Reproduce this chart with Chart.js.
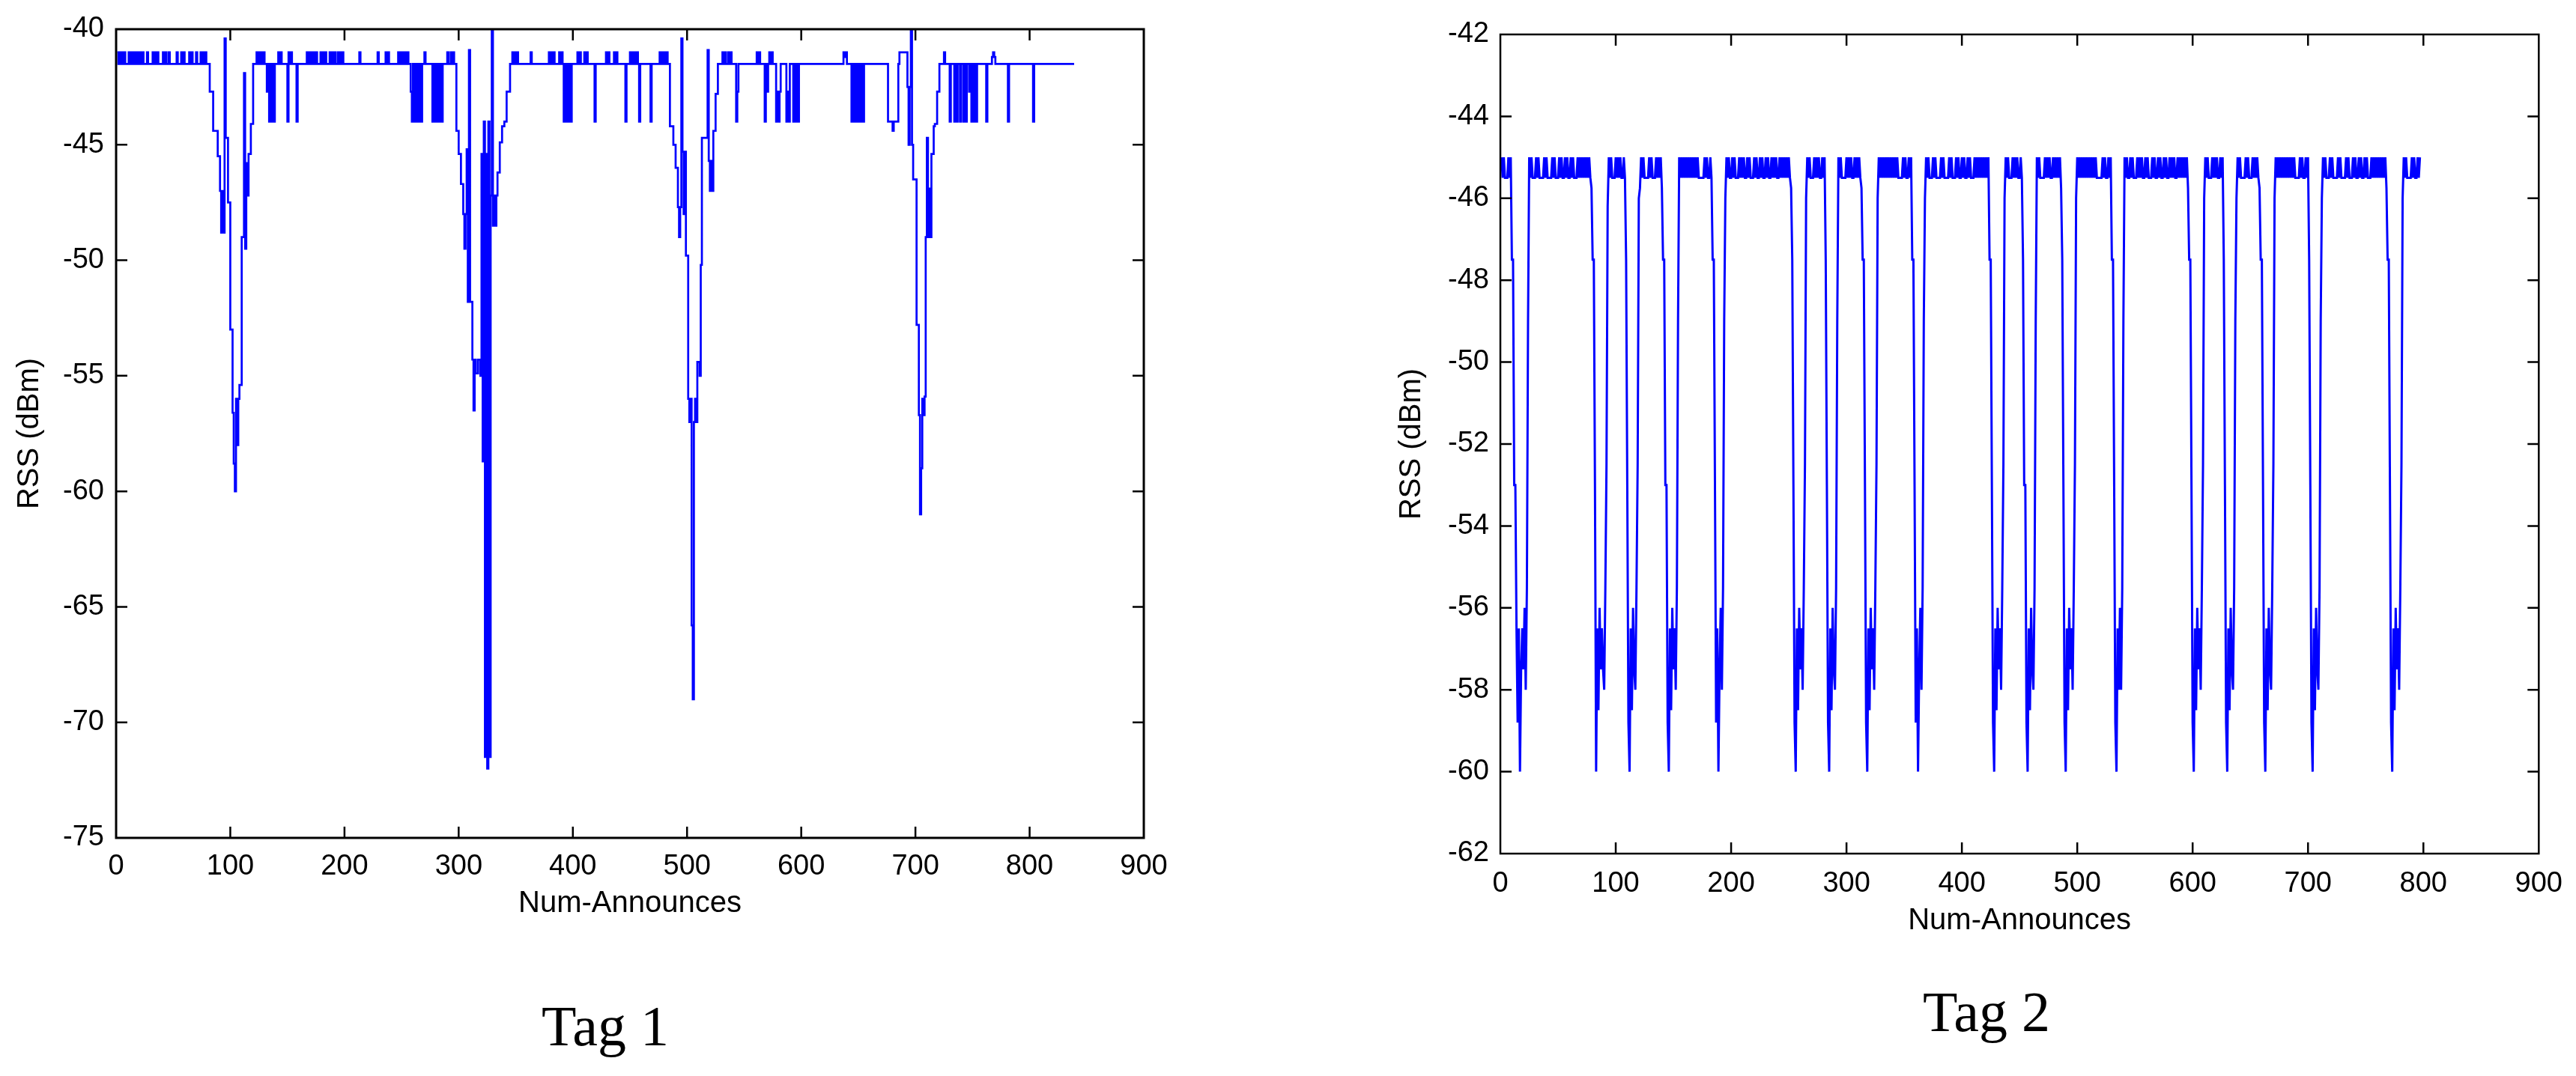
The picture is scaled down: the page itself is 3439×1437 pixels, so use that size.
<!DOCTYPE html>
<html><head><meta charset="utf-8">
<script src="https://cdn.jsdelivr.net/npm/chart.js@4.4.1/dist/chart.umd.min.js"></script>
<style>
html,body{margin:0;padding:0;background:#fff;}
body{width:3439px;height:1437px;position:relative;overflow:hidden;}
canvas{position:absolute;top:0;}
#c1{left:0}
#c2{left:1840px}
.tag{position:absolute;font-family:"Liberation Serif","Times New Roman",serif;font-size:76px;line-height:76px;color:#000;white-space:nowrap;transform:translateX(-50%);}
</style></head>
<body>
<canvas id="c1" width="1620" height="1300"></canvas>
<canvas id="c2" width="1599" height="1330"></canvas>
<div class="tag" style="left:808px;top:1332px">Tag 1</div>
<div class="tag" style="left:2652px;top:1313px">Tag 2</div>
<script>
// ---------- data ----------
const xTickValues = [0,100,200,300,400,500,600,700,800,900];
const tag1YTicks = [-75,-70,-65,-60,-55,-50,-45,-40];
const tag2YTicks = [-62,-60,-58,-56,-54,-52,-50,-48,-46,-44,-42];
const xTitle = 'Num-Announces';
const yTitle = 'RSS (dBm)';

// Tag 1: [announce number where the reading starts, RSS dBm] (held until next entry)
const tag1Readings = [
[1,-41],[2,-41.5],[3,-41],[4,-41.5],[5,-41],[6,-41.5],[7,-41],[8,-41.5],
[11,-41],[12,-41.5],[13,-41],[14,-41.5],[15,-41],[16,-41.5],[17,-41],[18,-41.5],[19,-41],[20,-41.5],[21,-41],[22,-41.5],[23,-41],[24,-41.5],
[27,-41],[28,-41.5],[32,-41],[33,-41.5],[34,-41],[35,-41.5],[36,-41],[37,-41.5],
[41,-41],[42,-41.5],[43,-41],[44,-41.5],[46,-41],[47,-41.5],[53,-41],[54,-41.5],
[57,-41],[58,-41.5],[59,-41],[60,-41.5],[64,-41],[65,-41.5],[66,-41],[67,-41.5],[70,-41],[71,-41.5],
[74,-41],[75,-41.5],[76,-41],[77,-41.5],[78,-41],[79,-41.5],
[82,-42.7],[85,-44.4],[89,-45.5],[91,-47],[92,-48.8],[93,-47],[94,-48.8],[95,-40.4],[96,-44.7],[98,-47.5],[100,-53],[102,-56.6],[103,-58.8],[104,-60],[105,-56],[106,-58],[107,-56],[108,-55.4],[110,-49],[112,-41.9],[113,-49.5],[114,-45.8],[115,-47.2],[116,-45.4],[118,-44.1],[120,-41.5],
[123,-41],[124,-41.5],[125,-41],[126,-41.5],[127,-41],[128,-41.5],[129,-41],[130,-41.5],[132,-42.7],[133,-41.5],[134,-44],[135,-41.5],[136,-44],[137,-41.5],[138,-44],[139,-41.5],[142,-41],[143,-41.5],[144,-41],[145,-41.5],[150,-44],[151,-41],[152,-41.5],[153,-41],[154,-41.5],[158,-44],[159,-41.5],
[167,-41],[168,-41.5],[169,-41],[170,-41.5],[171,-41],[172,-41.5],[173,-41],[174,-41.5],[175,-41],[176,-41.5],[179,-41],[180,-41.5],[181,-41],[182,-41.5],[183,-41],[184,-41.5],[187,-41],[188,-41.5],[189,-41],[190,-41.5],[191,-41],[192,-41.5],[194,-41],[195,-41.5],[196,-41],[197,-41.5],[198,-41],[199,-41.5],
[213,-41],[214,-41.5],[229,-41],[230,-41.5],[236,-41],[237,-41.5],[238,-41],[239,-41.5],
[247,-41],[248,-41.5],[249,-41],[250,-41.5],[251,-41],[252,-41.5],[253,-41],[254,-41.5],[255,-41],[256,-41.5],
[258,-42.7],[259,-44],[260,-41.5],[261,-44],[262,-41.5],[263,-44],[264,-41.5],[265,-44],[266,-41.5],[267,-44],[268,-41.5],[270,-41],[271,-41.5],
[277,-44],[278,-41.5],[279,-44],[280,-41.5],[281,-44],[282,-41.5],[283,-44],[284,-41.5],[285,-44],[286,-41.5],[290,-41],[291,-41.5],[293,-41],[294,-41.5],[295,-41],[296,-41.5],
[298,-44.4],[300,-45.4],[302,-46.7],[304,-48],[305,-49.5],[306,-48],[307,-45.2],[308,-51.8],[309,-40.9],[310,-51.8],[312,-54.3],[313,-56.5],[314,-54.3],[315,-54.9],[317,-54.3],[319,-55],[320,-45.4],[321,-58.7],[322,-44],[323,-71.5],[324,-45.4],[325,-72],[326,-44],[327,-71.5],[328,-47.2],[329,-40],[330,-48.5],[331,-47.2],[332,-48.5],[333,-47.2],[334,-46.2],[336,-44.9],[338,-44.2],[340,-44],[342,-42.7],[345,-41.5],
[347,-41],[348,-41.5],[349,-41],[350,-41.5],[351,-41],[352,-41.5],[363,-41],[364,-41.5],[379,-41],[380,-41.5],[381,-41],[382,-41.5],[383,-41],[384,-41.5],[388,-41],[389,-41.5],[390,-41],[391,-41.5],[392,-44],[393,-41.5],[394,-44],[395,-41.5],[396,-44],[397,-41.5],[398,-44],[399,-41.5],[404,-41],[405,-41.5],[406,-41],[407,-41.5],[410,-41],[411,-41.5],[412,-41],[413,-41.5],[419,-44],[420,-41.5],[429,-41],[430,-41.5],[431,-41],[432,-41.5],[436,-41],[437,-41.5],[438,-41],[439,-41.5],[446,-44],[447,-41.5],[450,-41],[451,-41.5],[452,-41],[453,-41.5],[454,-41],[455,-41.5],[456,-41],[457,-41.5],[458,-44],[459,-41.5],[468,-44],[469,-41.5],[476,-41],[477,-41.5],[478,-41],[479,-41.5],[480,-41],[481,-41.5],[482,-41],[483,-41.5],
[485,-44.2],[488,-45],[490,-46],[492,-47.7],[493,-49],[494,-47.7],[495,-40.4],[496,-45.3],[497,-48],[498,-45.3],[499,-49.8],[501,-56],[502,-57],[503,-56],[504,-65.8],[505,-69],[506,-57],[507,-56],[508,-57],[509,-54.4],[511,-55],[512,-50.2],[513,-44.7],[518,-40.9],[519,-45.7],[520,-47],[521,-45.7],[522,-47],[523,-44.4],[525,-42.8],[527,-41.5],
[531,-41],[532,-41.5],[533,-41],[534,-41.5],[536,-41],[537,-41.5],[538,-41],[539,-41.5],[543,-44],[544,-42.7],[545,-41.5],[561,-41],[562,-41.5],[563,-41],[564,-41.5],[568,-44],[569,-41.5],[570,-42.7],[571,-41.5],[572,-41],[573,-41.5],[574,-41],[575,-41.5],[578,-44],[579,-42.7],[580,-44],[581,-42.7],[582,-41.5],[587,-44],[588,-42.7],[589,-44],[590,-41.5],[593,-44],[594,-41.5],[595,-44],[596,-41.5],[597,-44],[598,-41.5],[637,-41],[638,-41.2],[639,-41],[640,-41.5],[644,-44],[645,-41.5],[646,-44],[647,-41.5],[648,-44],[649,-41.5],[650,-44],[651,-41.5],[652,-44],[653,-41.5],[654,-44],[655,-41.5],
[676,-44],[680,-44.4],[681,-44],[685,-41.5],[686,-41],[693,-42.5],[694,-45],[695,-42.5],[696,-40],[697,-45],[698,-46.5],[701,-52.8],[703,-56.7],[704,-61],[705,-59],[706,-56],[707,-56.7],[708,-55.9],[709,-49],[710,-44.7],[711,-49],[712,-46.9],[713,-49],[714,-45.4],[716,-44.2],[717,-44.1],[719,-42.7],[721,-41.5],
[725,-41],[726,-41.5],[730,-44],[731,-41.5],[734,-44],[735,-41.5],[736,-44],[737,-41.5],[739,-44],[740,-41.5],[742,-44],[743,-41.5],[744,-44],[745,-41.5],[747,-42.7],[748,-41.5],[749,-44],[750,-41.5],[751,-44],[752,-41.5],[753,-44],[754,-41.5],[762,-44],[763,-41.5],[767,-41.2],[768,-41],[769,-41.2],[770,-41.5],[781,-44],[782,-41.5],[803,-44],[804,-41.5],[839,-41.5]
];

// Tag 2: [first announce number of the run, consecutive RSS dBm readings]
const tag2Runs = [
[1,   [-45,-45.5,-45, -45.5,-45.5,-45.5, -45,-45.5,-45]],
[10,  [-47.5,-47.5,-53,-53,-56.5,-58.8,-56.5,-60,-57.5,-56.5,-57.5,-56,-58,-55.5,-49]],
[25,  [-45,-45.5,-45,-45.5, -45.5,-45.5, -45,-45.5,-45,-45.5, -45.5,-45.5,-45.5, -45,-45.5,-45,-45.5, -45.5,-45.5,-45.5, -45,-45.5,-45,-45.5, -45.5,-45.5, -45,-45.5,-45,-45.5, -45.5, -45,-45.5,-45, -45.5,-45.5, -45,-45.5,-45,-45.5, -45.5,-45.5, -45,-45.5,-45,-45.5,-45,-45.5,-45,-45.5,-45,-45.5,-45,-45.5]],
[79,  [-45.75,-47.5,-47.5,-53,-60,-56.5,-58.5,-56,-57.5,-56.5,-57.5,-58,-55.5,-52.5,-46.2]],
[94,  [-45,-45.5,-45, -45.5,-45.5,-45.5, -45,-45.5,-45,-45.5,-45, -45.5,-45.5, -45,-45.5]],
[109, [-47.5,-53,-58.8,-60,-56.5,-58.5,-56,-57.5,-58,-55.5,-52.5,-46,-45.75]],
[122, [-45,-45.5,-45,-45.5, -45.5,-45.5,-45.5, -45,-45.5,-45,-45.5, -45.5,-45.5, -45,-45.5,-45,-45.5,-45]],
[140, [-45.75,-47.5,-47.5,-53,-53,-58.8,-60,-56.5,-58.5,-56,-57.5,-56.5,-58,-55.5,-49]],
[155, [-45,-45.5,-45,-45.5,-45,-45.5,-45,-45.5,-45,-45.5,-45,-45.5,-45,-45.5,-45,-45.5,-45,-45.5, -45.5,-45.5,-45.5,-45.5, -45,-45.5,-45, -45.5,-45.5, -45,-45.5]],
[184, [-47.5,-47.5,-53,-58.8,-56.5,-60,-57.5,-56,-58,-55.5,-49,-46]],
[196, [-45,-45.5,-45, -45.5,-45.5, -45,-45.5,-45, -45.5,-45.5,-45.5, -45,-45.5,-45,-45.5,-45, -45.5,-45.5, -45,-45.5,-45,-45.5, -45.5,-45.5, -45,-45.5,-45, -45.5,-45.5, -45,-45.5,-45, -45.5,-45.5, -45,-45.5,-45,-45.5, -45.5, -45,-45.5,-45,-45.5,-45, -45.5,-45.5, -45,-45.5,-45,-45.5,-45,-45.5,-45,-45.5,-45,-45.5]],
[252, [-45.75,-47.5,-53,-58.8,-60,-56.5,-58.5,-56,-57.5,-56.5,-58,-55.5,-52.5,-46]],
[266, [-45,-45.5,-45, -45.5,-45.5,-45.5, -45,-45.5,-45,-45.5,-45, -45.5,-45.5, -45,-45.5,-45]],
[282, [-47.5,-53,-58.8,-60,-56.5,-58.5,-56,-57.5,-58,-55.5,-49]],
[293, [-45,-45.5,-45,-45.5, -45.5,-45.5,-45.5, -45,-45.5,-45,-45.5,-45, -45.5,-45.5, -45,-45.5,-45,-45.5,-45,-45.5]],
[313, [-45.75,-47.5,-47.5,-53,-58.8,-60,-56.5,-58.5,-56,-57.5,-56.5,-58,-55.5,-52.5]],
[327, [-46, -45,-45.5,-45,-45.5,-45,-45.5,-45,-45.5,-45,-45.5,-45,-45.5,-45,-45.5,-45,-45.5,-45, -45.5,-45.5,-45.5,-45.5, -45,-45.5,-45, -45.5,-45.5, -45,-45.5,-45]],
[357, [-47.5,-47.5,-53,-58.8,-56.5,-60,-57.5,-56,-58,-55.5,-49,-46]],
[369, [-45,-45.5,-45,-45.5, -45.5,-45.5, -45,-45.5,-45,-45.5, -45.5,-45.5,-45.5, -45,-45.5,-45,-45.5, -45.5,-45.5,-45.5, -45,-45.5,-45,-45.5, -45.5,-45.5, -45,-45.5,-45,-45.5, -45.5, -45,-45.5,-45, -45.5,-45.5, -45,-45.5,-45,-45.5, -45.5,-45.5, -45,-45.5,-45,-45.5,-45,-45.5,-45,-45.5,-45,-45.5,-45,-45.5,-45]],
[424, [-47.5,-47.5,-53,-58.8,-60,-56.5,-58.5,-56,-57.5,-56.5,-58,-55.5,-52.5,-46]],
[438, [-45,-45.5,-45, -45.5,-45.5,-45.5, -45,-45.5,-45,-45.5,-45, -45.5,-45.5, -45,-45.5]],
[453, [-47.5,-53,-53,-58.8,-60,-56.5,-58.5,-56,-57.5,-58,-55.5,-49]],
[465, [-45,-45.5,-45,-45.5, -45.5,-45.5,-45.5, -45,-45.5,-45,-45.5,-45, -45.5,-45.5, -45,-45.5,-45,-45.5,-45,-45.5,-45]],
[486, [-45.75,-47.5,-53,-58.8,-60,-56.5,-58.5,-56,-57.5,-56.5,-58,-55.5,-52.5,-46]],
[500, [-45,-45.5,-45,-45.5,-45,-45.5,-45,-45.5,-45,-45.5,-45,-45.5,-45,-45.5,-45,-45.5,-45,-45.5, -45.5,-45.5,-45.5,-45.5, -45,-45.5,-45, -45.5,-45.5, -45,-45.5,-45]],
[530, [-47.5,-47.5,-53,-58.8,-60,-56.5,-58,-56,-58,-55.5,-49]],
[541, [-45,-45.5,-45, -45.5,-45.5, -45,-45.5,-45, -45.5,-45.5,-45.5, -45,-45.5,-45,-45.5,-45, -45.5,-45.5, -45,-45.5,-45,-45.5, -45.5,-45.5, -45,-45.5,-45, -45.5,-45.5, -45,-45.5,-45, -45.5,-45.5, -45,-45.5,-45,-45.5, -45.5, -45,-45.5,-45,-45.5,-45, -45.5,-45.5, -45,-45.5,-45,-45.5,-45,-45.5,-45,-45.5,-45]],
[596, [-45.75,-47.5,-47.5,-53,-58.8,-60,-56.5,-58.5,-56,-57.5,-56.5,-58,-55.5,-52.5,-46]],
[611, [-45,-45.5,-45, -45.5,-45.5,-45.5, -45,-45.5,-45,-45.5,-45, -45.5,-45.5, -45,-45.5,-45]],
[627, [-47.5,-53,-58.8,-60,-56.5,-58.5,-56,-57.5,-58,-55.5,-49,-46]],
[639, [-45,-45.5,-45,-45.5, -45.5,-45.5,-45.5, -45,-45.5,-45,-45.5, -45.5,-45.5, -45,-45.5,-45,-45.5,-45,-45.5]],
[658, [-45.75,-47.5,-47.5,-53,-58.8,-60,-56.5,-58.5,-56,-57.5,-58,-55.5,-52.5]],
[671, [-46, -45,-45.5,-45,-45.5,-45,-45.5,-45,-45.5,-45,-45.5,-45,-45.5,-45,-45.5,-45,-45.5,-45, -45.5,-45.5,-45.5,-45.5, -45,-45.5,-45, -45.5,-45.5, -45,-45.5,-45]],
[701, [-47.5,-53,-58.8,-60,-56.5,-58.5,-56,-57.5,-58,-55.5,-49,-46]],
[713, [-45,-45.5,-45,-45.5, -45.5,-45.5, -45,-45.5,-45,-45.5, -45.5,-45.5,-45.5, -45,-45.5,-45,-45.5, -45.5,-45.5,-45.5, -45,-45.5,-45,-45.5, -45.5,-45.5, -45,-45.5,-45,-45.5, -45.5, -45,-45.5,-45, -45.5,-45.5, -45,-45.5,-45,-45.5, -45.5,-45.5, -45,-45.5,-45,-45.5,-45,-45.5,-45,-45.5,-45,-45.5,-45,-45.5,-45]],
[768, [-45.75,-47.5,-47.5,-53,-58.8,-60,-56.5,-58.5,-56,-57.5,-56.5,-58,-55.5,-52.5,-46]],
[783, [-45,-45.5,-45,-45.5, -45.5,-45.5,-45.5, -45,-45.5,-45, -45.5,-45.5, -45,-45.5,-45]]
];

// ---------- rendering ----------
const SANS = "'Liberation Sans', Arial, sans-serif";
const BLUE = '#0000ff';

const frameTicks = {
  id: 'frameTicks',
  afterDatasetsDraw(chart, args, opts) {
    const {ctx, chartArea: a, scales: {x, y}} = chart;
    const L = opts.len;
    ctx.save();
    ctx.strokeStyle = '#000';
    ctx.lineWidth = opts.tickWidth;
    ctx.beginPath();
    x.ticks.forEach(t => {
      const p = x.getPixelForValue(t.value);
      if (p <= a.left + 2 || p >= a.right - 2) return;
      ctx.moveTo(p, a.bottom); ctx.lineTo(p, a.bottom - L);
      ctx.moveTo(p, a.top); ctx.lineTo(p, a.top + L);
    });
    y.ticks.forEach(t => {
      const p = y.getPixelForValue(t.value);
      if (p <= a.top + 2 || p >= a.bottom - 2) return;
      ctx.moveTo(a.left, p); ctx.lineTo(a.left + L, p);
      ctx.moveTo(a.right, p); ctx.lineTo(a.right - L, p);
    });
    ctx.stroke();
    ctx.lineWidth = opts.frameWidth;
    ctx.strokeRect(a.left, a.top, a.right - a.left, a.bottom - a.top);
    ctx.restore();
  }
};

function buildChart(canvasId, points, stepped, yTicks, geo) {
  return new Chart(document.getElementById(canvasId), {
    type: 'line',
    data: { datasets: [{
      data: points, borderColor: BLUE, borderWidth: geo.lw, pointRadius: 0,
      stepped: stepped, tension: 0, fill: false
    }]},
    options: {
      responsive: false, animation: false, devicePixelRatio: 1, parsing: false,
      normalized: true,
      layout: { padding: { left: 0, top: geo.top, right: geo.right, bottom: 0 } },
      plugins: {
        legend: { display: false }, tooltip: { enabled: false },
        frameTicks: { len: 15, tickWidth: 2.5, frameWidth: geo.frame }
      },
      scales: {
        x: {
          type: 'linear', min: 0, max: 900,
          afterBuildTicks: s => { s.ticks = xTickValues.map(v => ({ value: v })); },
          afterFit: s => { s.height = geo.xh; },
          grid: { display: false, drawTicks: false }, border: { display: false },
          ticks: { color: '#000', font: { family: SANS, size: 38 }, padding: geo.xpad, maxRotation: 0, autoSkip: false },
          title: { display: true, text: xTitle, color: '#000', font: { family: SANS, size: 40 }, padding: { top: 0, bottom: geo.xtb } }
        },
        y: {
          type: 'linear', min: yTicks[0], max: yTicks[yTicks.length - 1],
          afterBuildTicks: s => { s.ticks = yTicks.map(v => ({ value: v })); },
          afterFit: s => { s.width = geo.yw; },
          grid: { display: false, drawTicks: false }, border: { display: false },
          ticks: { color: '#000', font: { family: SANS, size: 38 }, padding: geo.ypad, autoSkip: false },
          title: { display: true, text: yTitle, color: '#000', font: { family: SANS, size: 40 }, padding: { top: geo.ytt, bottom: 0 } }
        }
      }
    },
    plugins: [frameTicks]
  });
}

const tag1Points = tag1Readings.map(([x, v]) => ({ x: x, y: v }));
const tag2Points = [];
tag2Runs.forEach(([start, vals]) => vals.forEach((v, i) => tag2Points.push({ x: start + i, y: v })));

buildChart('c1', tag1Points, 'before', tag1YTicks,
  { top: 39, right: 93, xh: 181, yw: 155, xpad: 16, xtb: 69, ypad: 16, ytt: 16, frame: 3, lw: 2.7 });
buildChart('c2', tag2Points, false, tag2YTicks,
  { top: 46, right: 48, xh: 190, yw: 163, xpad: 18, xtb: 76, ypad: 15, ytt: 21, frame: 2.5, lw: 3 });
</script>
</body></html>
